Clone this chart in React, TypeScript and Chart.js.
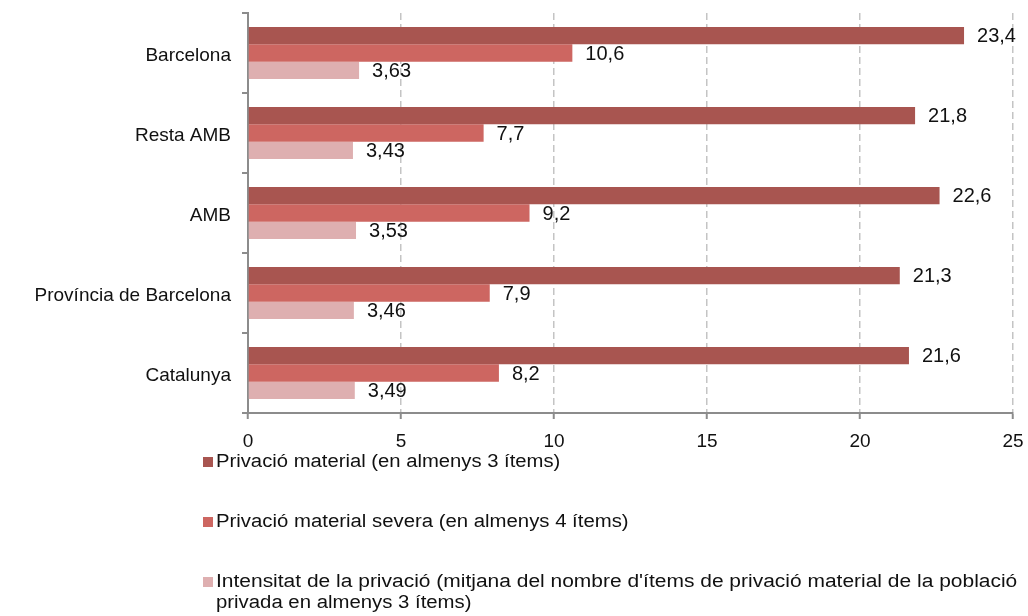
import React, { useEffect, useRef } from "react";
import { Chart, registerables } from "chart.js";

Chart.register(...registerables);

const categories = ["Barcelona", "Resta AMB", "AMB", "Província de Barcelona", "Catalunya"];
const privacioMaterial = [23.4, 21.8, 22.6, 21.3, 21.6];
const privacioSevera = [10.6, 7.7, 9.2, 7.9, 8.2];
const intensitat = [3.63, 3.43, 3.53, 3.46, 3.49];
const xTicks = [0, 5, 10, 15, 20, 25];

const seriesNames = [
  "Privació material (en almenys 3 ítems)",
  "Privació material severa (en almenys 4 ítems)",
  "Intensitat de la privació (mitjana del nombre d'ítems de privació material de la població",
];
const seriesNameCont = "privada en almenys 3 ítems)";
const colors = ["#A85550", "#CD6661", "#DEAFB0"];

const FONT = "'Liberation Sans', Arial, sans-serif";

const valueLabels = {
  id: "valueLabels",
  afterDatasetsDraw(chart: any) {
    const ctx = chart.ctx;
    ctx.save();
    ctx.font = `20px ${FONT}`;
    ctx.fillStyle = "#111";
    ctx.textAlign = "left";
    ctx.textBaseline = "middle";
    chart.data.datasets.forEach((ds: any, i: number) => {
      const meta = chart.getDatasetMeta(i);
      meta.data.forEach((bar: any, j: number) => {
        const v = ds.data[j];
        ctx.fillText(String(v).replace(".", ","), bar.x + 13, bar.y + 1);
      });
    });
    ctx.restore();
  },
};

export default function App() {
  const ref = useRef<HTMLCanvasElement>(null);
  useEffect(() => {
    const chart = new Chart(ref.current!, {
      type: "bar",
      data: {
        labels: categories,
        datasets: [
          { label: seriesNames[0], data: privacioMaterial, backgroundColor: colors[0] },
          { label: seriesNames[1], data: privacioSevera, backgroundColor: colors[1] },
          { label: seriesNames[2], data: intensitat, backgroundColor: colors[2] },
        ],
      },
      options: {
        indexAxis: "y",
        animation: false,
        responsive: false,
        maintainAspectRatio: false,
        layout: { padding: { left: 0, right: 15, top: 13, bottom: 160 } },
        datasets: { bar: { categoryPercentage: 0.65, barPercentage: 1.0 } },
        plugins: { legend: { display: false }, tooltip: { enabled: false } },
        scales: {
          x: {
            min: 0,
            max: 25,
            afterFit: (s: any) => {
              s.height = 43;
              s.paddingLeft = 0;
              s.paddingRight = 0;
            },
            afterBuildTicks: (s: any) => { s.ticks = xTicks.map((v) => ({ value: v })); },
            ticks: { color: "#111", font: { size: 19, family: FONT }, padding: 11, callback: (v: any) => String(v) },
            grid: {
              color: (c: any) => (c.tick && c.tick.value === 0 ? "rgba(0,0,0,0)" : "#C4C4C4"),
              lineWidth: 1.5,
              drawTicks: true,
              tickLength: 6,
              tickColor: "#8C8C8C",
              tickWidth: 2,
              tickBorderDash: [],
            },
            border: { display: true, color: "#8C8C8C", width: 2, dash: [7, 4] },
          },
          y: {
            afterFit: (s: any) => {
              s.width = 248;
              s.paddingTop = 0;
              s.paddingBottom = 0;
            },
            ticks: { color: "#111", font: { size: 19, family: FONT }, padding: 11, labelOffset: 3 },
            grid: {
              offset: true,
              drawOnChartArea: false,
              drawTicks: true,
              tickLength: 6,
              color: "#8C8C8C",
              lineWidth: 2,
            },
            border: { display: true, color: "#8C8C8C", width: 2 },
          },
        },
      },
      plugins: [valueLabels],
    });
    return () => chart.destroy();
  }, []);

  const legendText = (top: number, sx: number): React.CSSProperties => ({
    position: "absolute",
    left: 216,
    top,
    fontFamily: FONT,
    fontSize: 18,
    color: "#111",
    whiteSpace: "nowrap",
    transform: `scaleX(${sx})`,
    transformOrigin: "left center",
    lineHeight: "21px",
  });
  const sq = (c: string, top: number): React.CSSProperties => ({
    position: "absolute",
    left: 203,
    top,
    width: 10,
    height: 10,
    background: c,
  });

  return (
    <div style={{ position: "absolute", left: 0, top: 0, width: 1028, height: 616, background: "#fff" }}>
      <canvas ref={ref} width={1028} height={616} style={{ position: "absolute", left: 0, top: 0 }} />
      <div style={sq(colors[0], 457)} />
      <div style={legendText(451, 1.125)}>{seriesNames[0]}</div>
      <div style={sq(colors[1], 517)} />
      <div style={legendText(511, 1.13)}>{seriesNames[1]}</div>
      <div style={sq(colors[2], 577)} />
      <div style={legendText(571, 1.165)}>{seriesNames[2]}</div>
      <div style={legendText(592, 1.13)}>{seriesNameCont}</div>
    </div>
  );
}
